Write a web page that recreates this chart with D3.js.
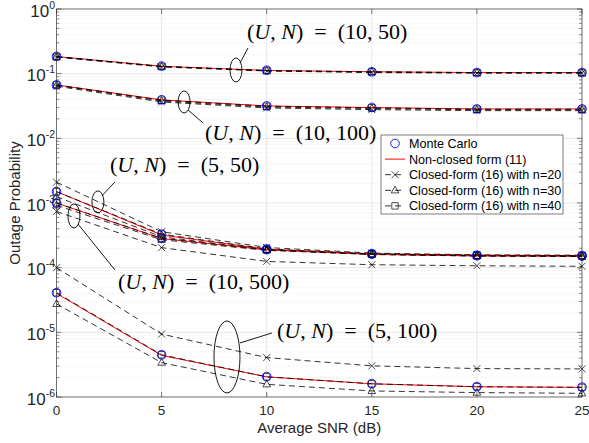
<!DOCTYPE html>
<html>
<head>
<meta charset="utf-8">
<script src="https://cdn.jsdelivr.net/npm/d3@7/dist/d3.min.js"></script>
<style>
  body { margin: 0; background: #fff; }
  svg { display: block; }
</style>
</head>
<body>
<svg id="chart" width="589" height="443"></svg>
<script>
// x values (Average SNR, dB)
var snr = [0, 5, 10, 15, 20, 25];

// (U,N) = (10,50)
var mc_10_50  = [0.185, 0.131, 0.113, 0.107, 0.104, 0.104];
var nc_10_50  = [0.184, 0.130, 0.112, 0.107, 0.104, 0.104];
var n20_10_50 = [0.180, 0.127, 0.110, 0.104, 0.102, 0.102];
var n30_10_50 = [0.182, 0.129, 0.111, 0.106, 0.103, 0.103];
var n40_10_50 = [0.184, 0.130, 0.112, 0.107, 0.104, 0.104];

// (U,N) = (10,100)
var mc_10_100  = [0.067, 0.0395, 0.0318, 0.0300, 0.0285, 0.0285];
var nc_10_100  = [0.067, 0.0393, 0.0317, 0.0299, 0.0284, 0.0284];
var n20_10_100 = [0.064, 0.0365, 0.0295, 0.0278, 0.0268, 0.0268];
var n30_10_100 = [0.066, 0.0378, 0.0305, 0.0289, 0.0276, 0.0276];
var n40_10_100 = [0.067, 0.0390, 0.0314, 0.0297, 0.0283, 0.0283];

// (U,N) = (5,50)
var mc_5_50  = [1.50e-3, 3.30e-4, 1.95e-4, 1.65e-4, 1.56e-4, 1.54e-4];
var nc_5_50  = [1.50e-3, 3.20e-4, 1.93e-4, 1.63e-4, 1.55e-4, 1.53e-4];
var n20_5_50 = [2.10e-3, 3.60e-4, 2.05e-4, 1.68e-4, 1.58e-4, 1.56e-4];
var n30_5_50 = [1.25e-3, 3.00e-4, 1.88e-4, 1.60e-4, 1.52e-4, 1.50e-4];
var n40_5_50 = [1.50e-3, 3.30e-4, 1.95e-4, 1.64e-4, 1.56e-4, 1.54e-4];

// (U,N) = (10,500)
var mc_10_500  = [1.00e-3, 2.85e-4, 1.90e-4, 1.62e-4, 1.53e-4, 1.51e-4];
var nc_10_500  = [1.00e-3, 2.82e-4, 1.89e-4, 1.61e-4, 1.52e-4, 1.50e-4];
var n20_10_500 = [7.40e-4, 2.04e-4, 1.25e-4, 1.11e-4, 1.07e-4, 1.05e-4];
var n30_10_500 = [9.20e-4, 2.70e-4, 1.85e-4, 1.60e-4, 1.51e-4, 1.49e-4];
var n40_10_500 = [1.00e-3, 2.85e-4, 1.90e-4, 1.62e-4, 1.53e-4, 1.51e-4];

// (U,N) = (5,100)
var mc_5_100  = [4.10e-5, 4.50e-6, 2.07e-6, 1.61e-6, 1.45e-6, 1.42e-6];
var nc_5_100  = [4.00e-5, 4.40e-6, 2.05e-6, 1.60e-6, 1.44e-6, 1.41e-6];
var n20_5_100 = [1.00e-4, 9.40e-6, 4.07e-6, 3.03e-6, 2.75e-6, 2.72e-6];
var n30_5_100 = [2.75e-5, 3.40e-6, 1.57e-6, 1.24e-6, 1.17e-6, 1.14e-6];
var n40_5_100 = [4.10e-5, 4.50e-6, 2.05e-6, 1.60e-6, 1.44e-6, 1.41e-6];

var xTicks = [0, 5, 10, 15, 20, 25];
var yExps = [-6, -5, -4, -3, -2, -1, 0];
var legendLabels = ['Monte Carlo', 'Non-closed form (11)', 'Closed-form (16) with n=20',
                    'Closed-form (16) with n=30', 'Closed-form (16) with n=40'];

(function() {

var groups = [
    { mc: mc_10_50,  nc: nc_10_50,  n20: n20_10_50,  n30: n30_10_50,  n40: n40_10_50 },
    { mc: mc_10_100, nc: nc_10_100, n20: n20_10_100, n30: n30_10_100, n40: n40_10_100 },
    { mc: mc_5_50,   nc: nc_5_50,   n20: n20_5_50,   n30: n30_5_50,   n40: n40_5_50 },
    { mc: mc_10_500, nc: nc_10_500, n20: n20_10_500, n30: n30_10_500, n40: n40_10_500 },
    { mc: mc_5_100,  nc: nc_5_100,  n20: n20_5_100,  n30: n30_5_100,  n40: n40_5_100 }
];

var pLeft = 56.5, pRight = 582, pTop = 9, pBottom = 397;
var axisColor = '#262626';
var sans = "'Liberation Sans', Arial, Helvetica, sans-serif";
var serif = "'Liberation Serif', 'Times New Roman', serif";

var svg = d3.select('#chart');
var x = d3.scaleLinear().domain([0, 25]).range([pLeft, pRight]);
var y = d3.scaleLog().domain([1e-6, 1]).range([pBottom, pTop]);

// grid
var grid = svg.append('g').attr('class', 'grid');
var minors = [];
yExps.slice(0, -1).forEach(function(e) {
    for (var k = 2; k <= 9; k++) minors.push(k * Math.pow(10, e));
});
grid.selectAll('line.ymin').data(minors).enter().append('line')
    .attr('x1', pLeft).attr('x2', pRight)
    .attr('y1', function(d) { return y(d); }).attr('y2', function(d) { return y(d); })
    .attr('stroke', '#e6e6e6').attr('stroke-width', 0.6).attr('stroke-dasharray', '2,2');
grid.selectAll('line.ymaj').data(yExps).enter().append('line')
    .attr('x1', pLeft).attr('x2', pRight)
    .attr('y1', function(e) { return y(Math.pow(10, e)); }).attr('y2', function(e) { return y(Math.pow(10, e)); })
    .attr('stroke', '#dedede').attr('stroke-width', 0.7);
grid.selectAll('line.xmaj').data(xTicks).enter().append('line')
    .attr('y1', pTop).attr('y2', pBottom)
    .attr('x1', function(d) { return x(d); }).attr('x2', function(d) { return x(d); })
    .attr('stroke', '#dedede').attr('stroke-width', 0.7);

// series
var line = d3.line()
    .x(function(d, i) { return x(snr[i]); })
    .y(function(d) { return y(d); });

var plot = svg.append('g').attr('class', 'series');

function markerPath(kind) {
    if (kind === 'x') return 'M-3.5,-3.5L3.5,3.5M-3.5,3.5L3.5,-3.5';
    if (kind === 'tri') return 'M0,-4.2L3.8,2.6L-3.8,2.6Z';
    if (kind === 'sq') return 'M-3.2,-3.2H3.2V3.2H-3.2Z';
    return '';
}

var dashedKeys = [['n20', 'x'], ['n30', 'tri'], ['n40', 'sq']];

groups.forEach(function(g) {
    plot.append('path').datum(g.nc)
        .attr('d', line).attr('fill', 'none')
        .attr('stroke', '#ff0000').attr('stroke-width', 1);

    dashedKeys.forEach(function(k) {
        plot.append('path').datum(g[k[0]])
            .attr('d', line).attr('fill', 'none')
            .attr('stroke', '#000').attr('stroke-width', 0.8)
            .attr('stroke-dasharray', '6,4');
    });
    dashedKeys.forEach(function(k) {
        plot.selectAll(null).data(g[k[0]]).enter().append('path')
            .attr('transform', function(d, i) { return 'translate(' + x(snr[i]) + ',' + y(d) + ')'; })
            .attr('d', markerPath(k[1]))
            .attr('fill', 'none').attr('stroke', '#000').attr('stroke-width', 0.7);
    });
    plot.selectAll(null).data(g.mc).enter().append('circle')
        .attr('cx', function(d, i) { return x(snr[i]); })
        .attr('cy', function(d) { return y(d); })
        .attr('r', 4.3)
        .attr('fill', 'none').attr('stroke', '#0000ff').attr('stroke-width', 0.9);
});

// axes box
var ax = svg.append('g').attr('class', 'axes');
ax.append('rect').attr('x', pLeft).attr('y', pTop)
    .attr('width', pRight - pLeft).attr('height', pBottom - pTop)
    .attr('fill', 'none').attr('stroke', axisColor).attr('stroke-width', 0.6);

xTicks.forEach(function(t) {
    [[pBottom, -5], [pTop, 5]].forEach(function(p) {
        ax.append('line').attr('x1', x(t)).attr('x2', x(t))
            .attr('y1', p[0]).attr('y2', p[0] + p[1])
            .attr('stroke', axisColor).attr('stroke-width', 0.6);
    });
    ax.append('text').attr('x', x(t)).attr('y', pBottom + 18)
        .attr('text-anchor', 'middle')
        .style('font-family', sans).style('font-size', '13.5px').attr('fill', axisColor)
        .text(t);
});

yExps.forEach(function(e) {
    var yy = y(Math.pow(10, e));
    [[pLeft, 5], [pRight, -5]].forEach(function(p) {
        ax.append('line').attr('x1', p[0]).attr('x2', p[0] + p[1])
            .attr('y1', yy).attr('y2', yy)
            .attr('stroke', axisColor).attr('stroke-width', 0.6);
    });
    var tx = ax.append('text').attr('x', 55).attr('y', yy + 7.5)
        .attr('text-anchor', 'end')
        .style('font-family', sans).style('font-size', '17px').attr('fill', axisColor);
    tx.append('tspan').text('10');
    tx.append('tspan').attr('dy', -8).style('font-size', '10.5px').text(e);
});
minors.forEach(function(m) {
    var yy = y(m);
    [[pLeft, 3], [pRight, -3]].forEach(function(p) {
        ax.append('line').attr('x1', p[0]).attr('x2', p[0] + p[1])
            .attr('y1', yy).attr('y2', yy)
            .attr('stroke', axisColor).attr('stroke-width', 0.5);
    });
});

ax.append('text').attr('x', (pLeft + pRight) / 2).attr('y', 433)
    .attr('text-anchor', 'middle')
    .style('font-family', sans).style('font-size', '15px').attr('fill', axisColor)
    .text('Average SNR (dB)');
ax.append('text')
    .attr('transform', 'translate(20,' + ((pTop + pBottom) / 2) + ') rotate(-90)')
    .attr('text-anchor', 'middle')
    .style('font-family', sans).style('font-size', '15px').attr('fill', axisColor)
    .text('Outage Probability');

// annotations: ellipse on the curves, leader line, label
var notes = [
    { u: 10, n: 50,  cx: 8.54, cy: 0.114,  rx: 6,  ry: 12, l: [4, -7, 12, -22],  tx: 247, ty: 39 },
    { u: 10, n: 100, cx: 6.07, cy: 0.0365, rx: 6,  ry: 11, l: [4, 8, 19, 21],    tx: 205, ty: 140 },
    { u: 5,  n: 50,  cx: 1.97, cy: 1.04e-3, rx: 6, ry: 11, l: [4, -6, 17, -20],  tx: 110, ty: 172 },
    { u: 10, n: 500, cx: 0.83, cy: 6.3e-4, rx: 6,  ry: 12, l: [4, 8, 41, 54],    tx: 118, ty: 289 },
    { u: 5,  n: 100, cx: 8.11, cy: 4.16e-6, rx: 13, ry: 36, l: [13, -14, 45, -24], tx: 277, ty: 338 }
];
var ann = svg.append('g').attr('class', 'annotations');
notes.forEach(function(a) {
    var cx = x(a.cx), cy = y(a.cy);
    ann.append('ellipse').attr('cx', cx).attr('cy', cy)
        .attr('rx', a.rx).attr('ry', a.ry)
        .attr('fill', 'none').attr('stroke', '#000').attr('stroke-width', 0.9);
    ann.append('line')
        .attr('x1', cx + a.l[0]).attr('y1', cy + a.l[1])
        .attr('x2', cx + a.l[2]).attr('y2', cy + a.l[3])
        .attr('stroke', '#000').attr('stroke-width', 0.9);
    var t = ann.append('text').attr('x', a.tx).attr('y', a.ty)
        .style('font-family', serif).style('font-size', '22px').attr('fill', '#000');
    t.append('tspan').text('(');
    t.append('tspan').style('font-style', 'italic').text('U');
    t.append('tspan').text(', ');
    t.append('tspan').style('font-style', 'italic').text('N');
    t.append('tspan').text(')\u2002=\u2002(' + a.u + ', ' + a.n + ')');
});

// legend
var lg = svg.append('g').attr('class', 'legend');
var lgX = 381, lgY = 135, lgW = 182, lgH = 79, rowH = 15.6;
lg.append('rect').attr('x', lgX).attr('y', lgY).attr('width', lgW).attr('height', lgH)
    .attr('fill', '#fff').attr('stroke', axisColor).attr('stroke-width', 0.6);
legendLabels.forEach(function(label, i) {
    var yy = lgY + 8.5 + i * rowH;
    var mx = lgX + 14;
    if (i === 0) {
        lg.append('circle').attr('cx', mx).attr('cy', yy).attr('r', 4.3)
            .attr('fill', 'none').attr('stroke', '#0000ff').attr('stroke-width', 0.9);
    } else if (i === 1) {
        lg.append('line').attr('x1', lgX + 4).attr('x2', lgX + 24).attr('y1', yy).attr('y2', yy)
            .attr('stroke', '#ff0000').attr('stroke-width', 1);
    } else {
        lg.append('line').attr('x1', lgX + 4).attr('x2', lgX + 24).attr('y1', yy).attr('y2', yy)
            .attr('stroke', '#000').attr('stroke-width', 0.8).attr('stroke-dasharray', '6,4');
        lg.append('path').attr('transform', 'translate(' + mx + ',' + yy + ')')
            .attr('d', markerPath(dashedKeys[i - 2][1]))
            .attr('fill', 'none').attr('stroke', '#000').attr('stroke-width', 0.7);
    }
    lg.append('text').attr('x', lgX + 28).attr('y', yy + 4.5)
        .style('font-family', sans).style('font-size', '12.6px').attr('fill', '#000')
        .text(label);
});

})();
</script>
</body>
</html>
